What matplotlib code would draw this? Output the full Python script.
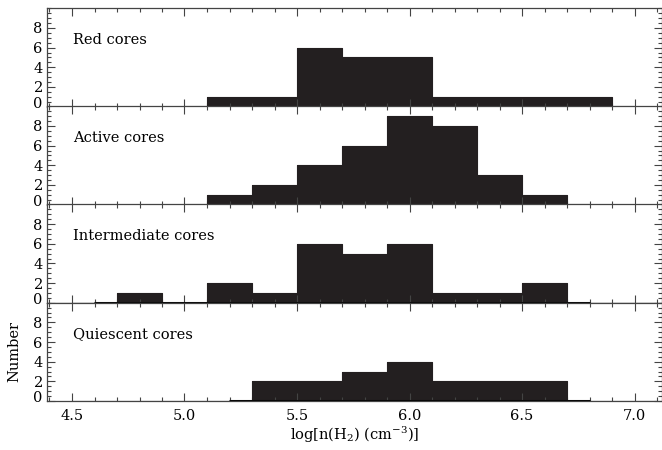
import numpy as np
import matplotlib
matplotlib.use("Agg")
import matplotlib.pyplot as plt
import matplotlib.transforms as mtransforms
from matplotlib.ticker import MultipleLocator

plt.rcParams['font.family'] = ['DejaVu Serif']
plt.rcParams['mathtext.fontset'] = 'dejavuserif'

# bin edges of log n(H2), 0.2 dex wide
edges = np.round(np.arange(4.5, 7.11, 0.2), 2)   # 4.5, 4.7, ..., 7.1

labels = ["Red cores", "Active cores", "Intermediate cores", "Quiescent cores"]

# counts per bin (bins from 4.5-4.7 up to 6.9-7.1)
red          = [0, 0, 0, 1, 1, 6, 5, 5, 1, 1, 1, 1, 0]
active       = [0, 0, 0, 1, 2, 4, 6, 9, 8, 3, 1, 0, 0]
intermediate = [0, 1, 0, 2, 1, 6, 5, 6, 1, 1, 2, 0, 0]
quiescent    = [0, 0, 0, 0, 2, 2, 3, 4, 2, 2, 2, 0, 0]

# range of bin centres covered by each histogram (zero bins draw as baseline)
spans = [(5.0, 7.0), (5.0, 6.8), (4.6, 6.8), (5.2, 6.8)]

counts = [red, active, intermediate, quiescent]

W, H = 662, 450
fig = plt.figure(figsize=(W / 100, H / 100), dpi=100)

left, right = 47, 662
bottoms = [106.6, 204.6, 302.8, 401.0]
panel_h = 98.3

for k, (lab, c, sp) in enumerate(zip(labels, counts, spans)):
    y0 = bottoms[k]
    ax = fig.add_axes([left / W, 1 - y0 / H, (right - left) / W, panel_h / H])
    c = np.array(c)
    for i in range(len(c)):
        if c[i] > 0:
            ax.fill_between([edges[i], edges[i + 1]], 0, c[i],
                            color="#231f20", lw=0)
    # outline along the bar tops
    xs = np.repeat(edges, 2)[1:-1]
    ys = np.repeat(c, 2)
    ax.plot(xs, ys, color="#231f20", lw=0.8)
    # baseline drawn over the histogram range
    ax.plot([sp[0], sp[1]], [0, 0], color="black", lw=2.2, solid_capstyle="butt")

    ax.set_xlim(4.5 - 25 / 225, 4.5 + 590 / 225)
    ax.set_ylim(0, 10)
    ax.xaxis.set_major_locator(MultipleLocator(0.5))
    ax.xaxis.set_minor_locator(MultipleLocator(0.1))
    ax.yaxis.set_minor_locator(MultipleLocator(0.5))
    ax.set_yticks([0, 2, 4, 6, 8])
    ax.tick_params(which="both", direction="in", top=True, right=True,
                   color="#444444", width=0.8, labelsize=10.5)
    ax.tick_params(which="major", length=6)
    ax.tick_params(which="minor", length=3)
    ax.tick_params(axis="y", which="major", pad=3)
    for s in ax.spines.values():
        s.set_color("#444444")
        s.set_linewidth(0.9)
    if k < 3:
        ax.tick_params(labelbottom=False)
    ax.text(4.505, 6.8, lab, fontsize=10.5, va="center", ha="left")

    # lift the "0" label a little off the panel edge
    lift = mtransforms.ScaledTranslation(0, 4 / 100, fig.dpi_scale_trans)
    ylabs = ax.get_yticklabels()
    ylabs[0].set_transform(ylabs[0].get_transform() + lift)

    if k == 3:
        ax.set_xticks([4.5, 5.0, 5.5, 6.0, 6.5, 7.0])
        ax.set_xticklabels(["4.5", "5.0", "5.5", "6.0", "6.5", "7.0"])
        ax.tick_params(axis="x", which="major", pad=6)
        ax.set_xlabel(r"log[n(H$_2$) (cm$^{-3}$)]", fontsize=10.5, labelpad=1)

fig.text(14 / W, 1 - 352 / H, "Number", rotation=90, fontsize=10.5,
         va="center", ha="center")

fig.savefig("out.png", dpi=100)
